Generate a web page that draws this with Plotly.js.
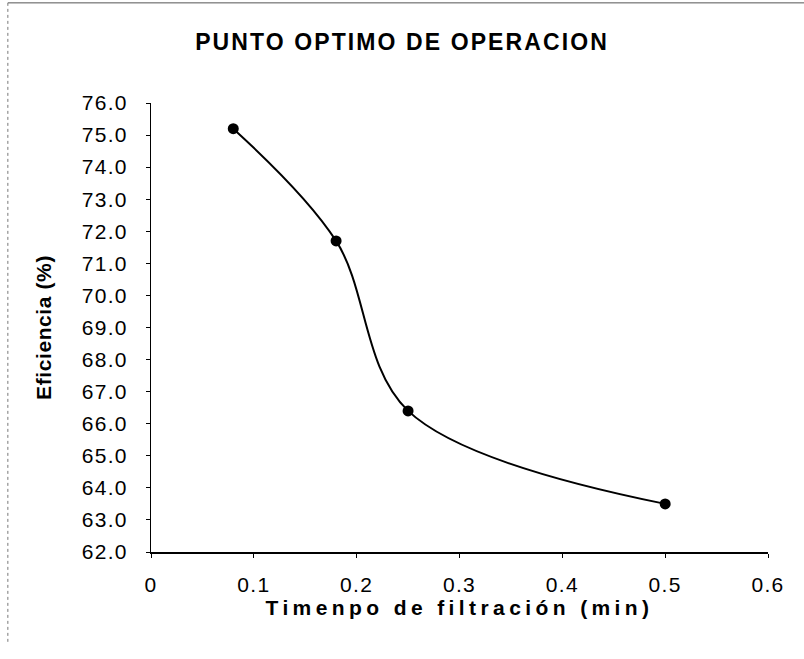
<!DOCTYPE html>
<html>
<head>
<meta charset="utf-8">
<script src="https://cdn.plot.ly/plotly-3.0.1.min.js"></script>
<style>
  html, body { margin: 0; padding: 0; background: #fff; }
  #chart { width: 804px; height: 659px; }
  .gtitle { letter-spacing: 2.1px; }
  .xtitle { letter-spacing: 4.4px; }
  .ytitle { letter-spacing: 0.6px; }
  .xtick text, .ytick text { letter-spacing: 1.3px; }
</style>
</head>
<body>
<div id="chart"></div>
<script>
const tiempo = [0.08, 0.18, 0.25, 0.5];
const eficiencia = [75.2, 71.7, 66.4, 63.5];
const xTicks = [0, 0.1, 0.2, 0.3, 0.4, 0.5, 0.6];
const xTickLabels = ['0', '0.1', '0.2', '0.3', '0.4', '0.5', '0.6'];
const yTicks = [62, 63, 64, 65, 66, 67, 68, 69, 70, 71, 72, 73, 74, 75, 76];

const trace = {
  x: tiempo,
  y: eficiencia,
  type: 'scatter',
  mode: 'lines+markers',
  line: { color: '#000', width: 2, shape: 'spline', smoothing: 1 },
  marker: { color: '#000', size: 11 },
  hoverinfo: 'x+y'
};

const layout = {
  width: 804,
  height: 659,
  margin: { l: 151, r: 36, t: 103, b: 107 },
  paper_bgcolor: '#fff',
  plot_bgcolor: '#fff',
  showlegend: false,
  font: { family: 'Liberation Sans, Arial, sans-serif', color: '#000', size: 21 },
  title: {
    text: '<b>PUNTO OPTIMO DE OPERACION</b>',
    font: { family: 'Liberation Sans, Arial, sans-serif', size: 23, color: '#000' },
    x: 0.5, xref: 'container', xanchor: 'center',
    y: 0.937, yref: 'container', yanchor: 'middle'
  },
  xaxis: {
    range: [0, 0.6],
    tickvals: xTicks,
    ticktext: xTickLabels,
    showgrid: false,
    zeroline: false,
    showline: true,
    linecolor: '#000',
    linewidth: 2,
    ticks: 'outside',
    ticklen: 4,
    tickcolor: '#000',
    ticklabelstandoff: 9,
    tickfont: { size: 21 },
    title: { text: '<b>Timenpo de filtración (min)</b>', font: { size: 21 }, standoff: 2 }
  },
  yaxis: {
    range: [62, 76],
    tickvals: yTicks,
    tickformat: '.1f',
    showgrid: false,
    zeroline: false,
    showline: true,
    linecolor: '#000',
    linewidth: 1,
    ticks: 'outside',
    ticklen: 4,
    tickcolor: '#000',
    ticklabelstandoff: 14,
    tickfont: { size: 21 },
    title: { text: '<b>Eficiencia (%)</b>', font: { size: 21 }, standoff: 24 }
  },
  shapes: [
    { type: 'line', xref: 'paper', yref: 'paper', x0: -0.232, x1: 1.06, y0: 1.223, y1: 1.223,
      line: { color: '#555', width: 1 } },
    { type: 'line', xref: 'paper', yref: 'paper', x0: -0.232, x1: -0.232, y0: 1.223, y1: -0.2,
      line: { color: '#777', width: 1, dash: 'dot' } }
  ]
};

Plotly.newPlot('chart', [trace], layout, { displayModeBar: false, staticPlot: true });
</script>
</body>
</html>
